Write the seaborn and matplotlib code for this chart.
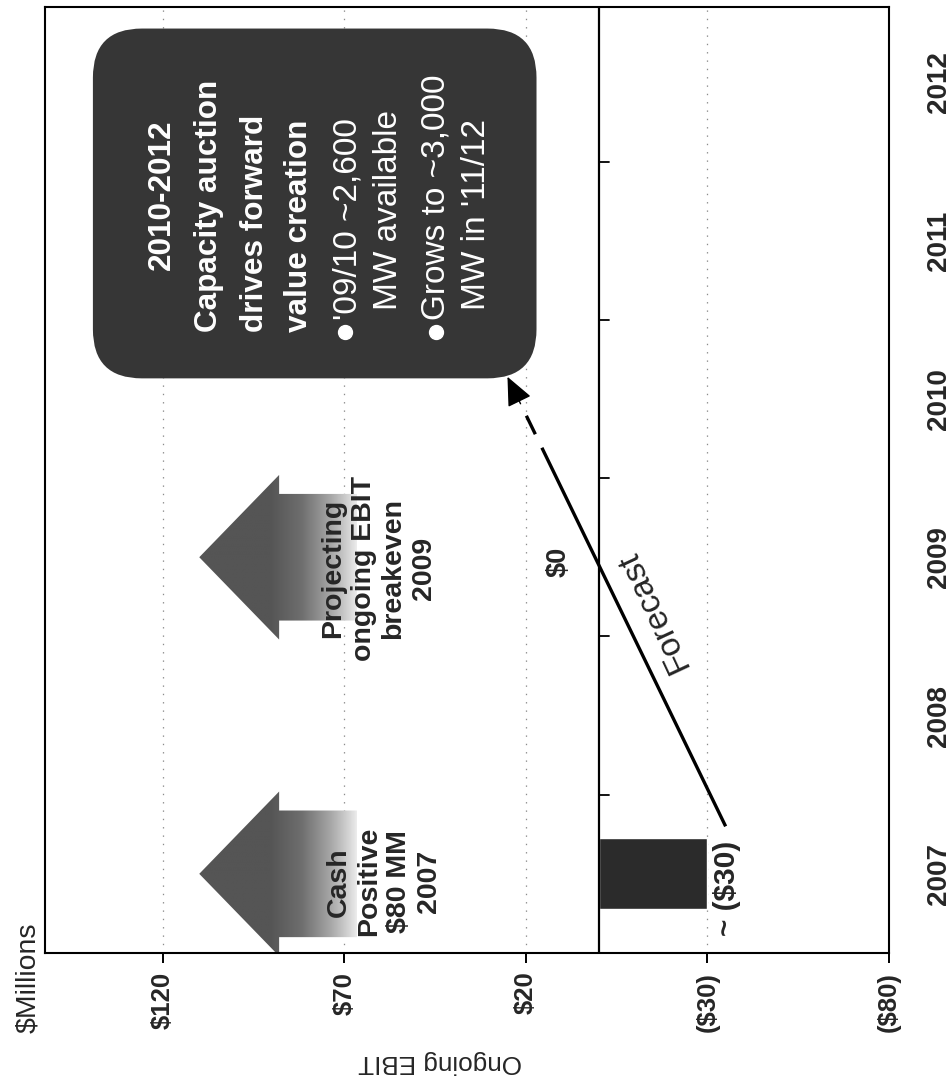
import numpy as np
import seaborn as sns
import matplotlib.pyplot as plt
from matplotlib.patches import Polygon, FancyBboxPatch
from matplotlib.colors import LinearSegmentedColormap

# ------------------------------------------------------------
# data (chart is a scanned page lying on its side: values run
# right -> left along the bottom, years run up the right side)
# ------------------------------------------------------------
years = [2007, 2008, 2009, 2010, 2011, 2012]
year_labels = ['2007', '2008', '2009', '2010', '2011', '2012']
actual_years = [2007]
actual_ebit = [-30]
value_ticks = [120, 70, 20, -30, -80]
value_labels = ['\\$120', '\\$70', '\\$20', '(\\$30)', '(\\$80)']
forecast_years = [2007.3, 2010.14]
forecast_ebit = [-35, 25.1]
callout_years = [2007.0, 2009.0]
callout_texts = ['Cash\nPositive\n\\$80 MM\n2007',
                 'Projecting\nongoing EBIT\nbreakeven\n2009']
box_header = ['Capacity auction', 'drives forward', 'value creation']
box_bullets = [["'09/10 ~2,600", 'MW available'],
               ['Grows to ~3,000', "MW in '11/12"]]

sns.set_theme(style='white')
plt.rcParams['font.family'] = ['Liberation Sans', 'DejaVu Sans']
plt.rcParams['lines.scale_dashes'] = False

fig = plt.figure(figsize=(9.51, 10.79), dpi=100)
ax = fig.add_axes([0.0473, 0.1168, 0.8875, 0.8767])

XLIM = (152.5, -80)
YLIM = (2006.5, 2012.476)

# faint dotted gridlines
for v in value_ticks[:-1]:
    ax.axvline(v, color='#8c8c8c', lw=0.9, ls=(0, (1, 5)), zorder=0)

# the one actual bar
sns.barplot(x=actual_ebit, y=actual_years, orient='h', native_scale=True,
            width=0.45, color='#2b2b2b', saturation=1, errorbar=None,
            ax=ax, zorder=3)

# zero line with year-boundary ticks
ax.axvline(0, color='black', lw=1.6, zorder=4)
for y in years[:-1]:
    ax.plot([0, -2.8], [y + 0.5, y + 0.5], color='black', lw=1.3, zorder=4)

# big gradient arrows (point toward higher EBIT)
arrow_cmap = LinearSegmentedColormap.from_list('arr', ['#ececec', '#a8a8a8', '#6e6e6e', '#555555'])


def gradient_arrow(yc, tip=110.0, base=88.0, tail=66.5, head_hw=0.52, shaft_hw=0.40):
    verts = [(tip, yc), (base, yc + head_hw), (base, yc + shaft_hw), (tail, yc + shaft_hw),
             (tail, yc - shaft_hw), (base, yc - shaft_hw), (base, yc - head_hw)]
    poly = Polygon(verts, closed=True, facecolor='none', edgecolor='none')
    ax.add_patch(poly)
    t = np.linspace(0, 1, 300)[None, :]
    grad = np.clip(t / 0.55, 0, 1) ** 0.9
    im = ax.imshow(grad, extent=(tail, tip, yc - head_hw, yc + head_hw), cmap=arrow_cmap,
                   vmin=0, vmax=1, aspect='auto', origin='lower', zorder=2,
                   interpolation='bilinear')
    im.set_clip_path(poly)


for yc in callout_years:
    gradient_arrow(yc)

ax.text(59.2, 2006.95, callout_texts[0], rotation=90, ha='center', va='center',
        multialignment='center', fontsize=20.5, fontweight='bold', zorder=5)
ax.text(60.6, 2008.93, callout_texts[1], rotation=90, ha='center', va='center',
        multialignment='center', fontsize=20.5, fontweight='bold', zorder=5)

# dark rounded call-out box
box = FancyBboxPatch((17.1, 2010.13), 139.3 - 17.1, 2012.34 - 2010.13,
                     boxstyle='round,pad=0,rounding_size=13.5',
                     mutation_aspect=3.635 / 158.3,
                     facecolor='#363636', edgecolor='none', zorder=3)
ax.add_patch(box)

ax.text(118.1, 2011.29, '2010-2012', rotation=90, rotation_mode='anchor',
        ha='center', va='baseline', color='white', fontsize=22.7,
        fontweight='bold', zorder=6)
for v, line in zip([105.1, 92.5, 80.4], box_header):
    ax.text(v, 2010.42, line, rotation=90, rotation_mode='anchor', ha='left',
            va='baseline', color='white', fontsize=22.7, fontweight='bold', zorder=6)
bullet_rows = [(66.6, 55.6, 69.9), (42.4, 31.4, 44.9)]
for (v1, v2, vb), (l1, l2) in zip(bullet_rows, box_bullets):
    ax.text(v1, 2010.50, l1, rotation=90, rotation_mode='anchor', ha='left',
            va='baseline', color='white', fontsize=24, zorder=6)
    ax.text(v2, 2010.56, l2, rotation=90, rotation_mode='anchor', ha='left',
            va='baseline', color='white', fontsize=24, zorder=6)
    ax.plot([vb], [2010.42], 'o', color='white', ms=10, zorder=6)

# forecast line: long solid run, one dash, then the head
ax.plot(forecast_ebit, forecast_years, color='black', lw=2.4,
        dashes=[303, 10.8, 14.8, 300], dash_capstyle='butt', zorder=5)
f0 = np.array([forecast_ebit[0], forecast_years[0]])
f1 = np.array([forecast_ebit[1], forecast_years[1]])
head_start = f0 + 0.94 * (f1 - f0)
ax.annotate('', xy=tuple(f1), xytext=tuple(head_start),
            arrowprops=dict(arrowstyle='-|>,head_length=0.9,head_width=0.4',
                            mutation_scale=20, color='black', lw=1,
                            shrinkA=0, shrinkB=0), zorder=5)

ax.text(-15.0, 2008.66, 'Forecast', rotation=115, ha='center', va='center',
        fontsize=24, zorder=5)
ax.text(11.1, 2008.97, '\\$0', rotation=90, ha='center', va='center',
        fontsize=19.5, fontweight='bold', zorder=5)
ax.text(-35.4, 2006.91, '~ (\\$30)', rotation=90, ha='center', va='center',
        fontsize=21.5, fontweight='bold', zorder=5)

# axes cosmetics
ax.set_xlim(*XLIM)
ax.set_ylim(*YLIM)
ax.set_xlabel('')
ax.set_ylabel('')
ax.set_xticks(value_ticks)
ax.set_xticklabels(value_labels, rotation=90, fontsize=18.5, fontweight='bold')
ax.tick_params(axis='x', bottom=True, length=7.5, width=1.4, pad=6, color='black')
ax.set_yticks(years)
ax.set_yticklabels(year_labels, rotation=90, fontsize=20, fontweight='bold')
ax.yaxis.tick_right()
ax.tick_params(axis='y', length=0, pad=27)
for lab in ax.get_yticklabels():
    lab.set_va('center')
for sp in ax.spines.values():
    sp.set_visible(True)
    sp.set_color('black')
    sp.set_linewidth(1.5)
ax.grid(False)

fig.text(28 / 951, 1 - 978 / 1079, '\\$Millions', rotation=90, ha='center',
         va='center', fontsize=20.4)
fig.text(440 / 951, 1 - 1062 / 1079, 'Ongoing EBIT', rotation=180, ha='center',
         va='center', fontsize=18.8)

fig.savefig('out.png', dpi=100)
